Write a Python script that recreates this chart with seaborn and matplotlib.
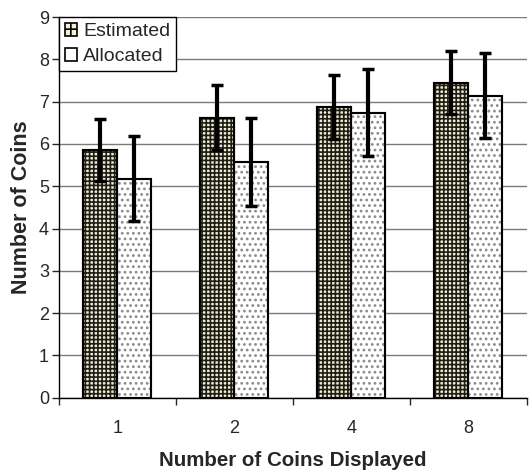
import matplotlib
matplotlib.use("Agg")
import matplotlib.pyplot as plt
from matplotlib.patches import Rectangle
import seaborn as sns
import pandas as pd


# Values
displayed = ["1", "2", "4", "8"]
estimated = [5.86, 6.62, 6.88, 7.45]
estimated_err = [0.74, 0.77, 0.76, 0.74]
allocated = [5.18, 5.58, 6.74, 7.14]
allocated_err = [1.00, 1.04, 1.02, 1.00]
series = ["Estimated", "Allocated"]

df = pd.DataFrame({
    "displayed": displayed * 2,
    "coins": estimated + allocated,
    "measure": [series[0]] * 4 + [series[1]] * 4,
})

sns.set_style("white")
plt.rcParams["font.family"] = ["Liberation Sans", "DejaVu Sans"]
plt.rcParams["hatch.linewidth"] = 1.2

fig = plt.figure(figsize=(5.3, 4.73), dpi=100)
ax = fig.add_axes([0.111, 0.159, 0.883, 0.805])

sns.barplot(data=df, x="displayed", y="coins", hue="measure", order=displayed,
            hue_order=series, width=0.58, palette=["#f4f0d2", "white"],
            edgecolor="black", linewidth=1.5, errorbar=None, ax=ax, zorder=3)

# patterns + error bars for each series
hatches = ["++++", "..."]
hatch_cols = ["#1e1e14", "#8a8a8a"]
errs = [estimated_err, allocated_err]
for cont, hatch, hcol, err in zip(ax.containers, hatches, hatch_cols, errs):
    xs, ys = [], []
    for bar in cont:
        bar.set_hatch(hatch)
        # pattern colour, black outline drawn on top
        bar.set_edgecolor(hcol)
        ax.add_patch(Rectangle(bar.get_xy(), bar.get_width(), bar.get_height(),
                               fill=False, edgecolor="black", linewidth=1.5, zorder=3.5))
        xs.append(bar.get_x() + bar.get_width() / 2)
        ys.append(bar.get_height())
    ax.errorbar(xs, ys, yerr=err, fmt="none", ecolor="black", elinewidth=3,
                capsize=4.5, capthick=2.5, zorder=4)

ax.set_ylim(0, 9)
ax.set_xlim(-0.5, 3.5)
ax.set_yticks(range(0, 10))
ax.yaxis.grid(True, color="#7a7a7a", linewidth=1.0, zorder=0)
ax.set_axisbelow(True)

ax.set_xticks([-0.5, 0.5, 1.5, 2.5, 3.5], minor=True)
ax.tick_params(axis="x", which="major", length=0, pad=16, labelsize=13)
ax.tick_params(axis="x", which="minor", length=5, width=1, direction="out", bottom=True)
ax.tick_params(axis="y", length=5, width=1, direction="out", left=True, labelsize=13, pad=2)

for side in ["top", "right"]:
    ax.spines[side].set_visible(False)
for side in ["left", "bottom"]:
    ax.spines[side].set_color("black")
    ax.spines[side].set_linewidth(1.0)

ax.set_xlabel("Number of Coins Displayed", fontsize=14.8, fontweight="bold", labelpad=10)
ax.set_ylabel("Number of Coins", fontsize=15.5, fontweight="bold", labelpad=5)

# legend with pattern swatches
est_handle = Rectangle((0, 0), 1, 1, facecolor="#f4f0d2", edgecolor="black",
                       hatch="++", linewidth=1.2)
alloc_handle = Rectangle((0, 0), 1, 1, facecolor="white", edgecolor="black", linewidth=1.2)
leg = ax.legend(handles=[est_handle, alloc_handle], labels=series, loc="upper left",
                bbox_to_anchor=(0, 1), borderaxespad=0, fancybox=False,
                edgecolor="black", framealpha=1, fontsize=14, handlelength=0.65,
                handleheight=0.65, handletextpad=0.3, labelspacing=0.4,
                borderpad=0.3)
leg.get_frame().set_linewidth(1.0)

fig.savefig("out.png", dpi=100)
